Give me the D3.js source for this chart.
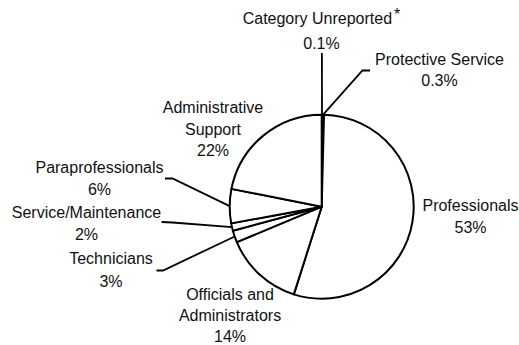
<!DOCTYPE html>
<html><head><meta charset="utf-8">
<script src="https://cdn.jsdelivr.net/npm/d3@7/dist/d3.min.js"></script>
<style>body{margin:0;background:#fff}svg{display:block}</style>
</head><body>
<svg id="chart" width="519" height="345"></svg>
<script>
// ---- data ----
const categories = ["Category Unreported","Protective Service","Professionals","Officials and Administrators","Technicians","Service/Maintenance","Paraprofessionals","Administrative Support"];
const shares = [0.1, 0.3, 54.5, 13.8, 2.1, 1.3, 6.0, 21.9];   // slice sizes
const percentLabels = ["0.1%","0.3%","53%","14%","3%","2%","6%","22%"];
const nameLines = [["Category Unreported"],["Protective Service"],["Professionals"],["Officials and","Administrators"],["Technicians"],["Service/Maintenance"],["Paraprofessionals"],["Administrative","Support"]];
const footnoteMark = ["*","","","","","","",""];

// ---- layout ----
const W = 519, H = 345, cx = 321.7, cy = 206.7, R = 92;
const labelPos = [
  {x: 321.5, ys: [24, 48.5]},
  {x: 439.5, ys: [65, 86]},
  {x: 470.5, ys: [211, 233]},
  {x: 230, ys: [300, 321, 342]},
  {x: 111, ys: [264, 286.5]},
  {x: 86.5, ys: [217.5, 239.5]},
  {x: 99.5, ys: [173, 195]},
  {x: 213, ys: [113, 134.5, 156]}
];
const leaderStart = [
  [[321.9, 53]],
  [[370, 70.5],[362.5, 70.5]],
  null, null,
  [[156.5, 270.5],[163, 270.5]],
  [[161.5, 222],[172.5, 222.5]],
  [[165, 178.5],[172.5, 178.5]],
  null
];

const svg = d3.select("#chart");
const g = svg.append("g").attr("transform", `translate(${cx},${cy})`);

const data = categories.map((c, i) => ({name: c, value: shares[i], i}));
const pie = d3.pie().sort(null).value(d => d.value).startAngle(0).endAngle(2 * Math.PI);
const arcs = pie(data);
const arc = d3.arc().innerRadius(0).outerRadius(R);

g.selectAll("path.slice").data(arcs).join("path")
  .attr("class", "slice")
  .attr("d", arc)
  .attr("fill", "#fff")
  .attr("stroke", "#000")
  .attr("stroke-width", 2)
  .attr("stroke-linejoin", "round");

// leader lines
const line = d3.line();
arcs.forEach((a, i) => {
  if (!leaderStart[i]) return;
  const mid = (a.startAngle + a.endAngle) / 2;
  const end = [cx + R * Math.sin(mid), cy - R * Math.cos(mid)];
  svg.append("path")
    .attr("d", line(leaderStart[i].concat([end])))
    .attr("fill", "none")
    .attr("stroke", "#000")
    .attr("stroke-width", 1.8);
});

// labels
const font = "'Liberation Sans', Arial, Helvetica, sans-serif";
arcs.forEach((a, i) => {
  const lp = labelPos[i];
  const lines = nameLines[i].concat([percentLabels[i]]);
  lines.forEach((t, k) => {
    const txt = svg.append("text")
      .attr("x", lp.x).attr("y", lp.ys[k])
      .attr("text-anchor", "middle")
      .attr("font-family", font)
      .attr("font-size", 16)
      .attr("fill", "#111");
    txt.append("tspan").text(t);
    if (k === 0 && footnoteMark[i]) {
      txt.append("tspan").attr("dx", 2).attr("dy", -4).text(footnoteMark[i]);
    }
  });
});
</script>
</body></html>
